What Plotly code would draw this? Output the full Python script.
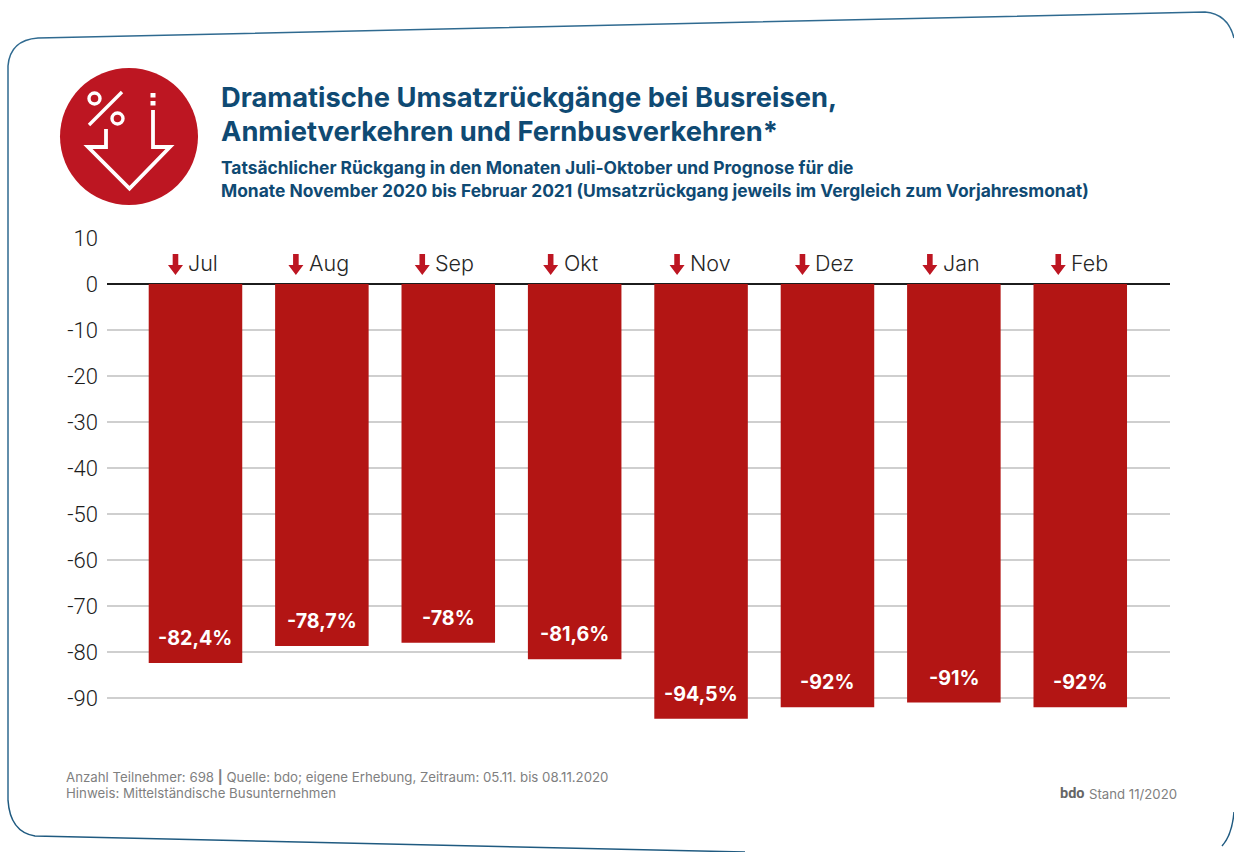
import plotly.graph_objects as go

WIDTH, HEIGHT = 1234, 852

months = ["Jul", "Aug", "Sep", "Okt", "Nov", "Dez", "Jan", "Feb"]
revenue_change = [-82.4, -78.7, -78, -81.6, -94.5, -92, -91, -92]
tick_values = [10, 0, -10, -20, -30, -40, -50, -60, -70, -80, -90]
tick_labels = ["10", "0", "-10", "-20", "-30", "-40", "-50", "-60", "-70", "-80", "-90"]

title_lines = [
    "Dramatische Umsatzrückgänge bei Busreisen,",
    "Anmietverkehren und Fernbusverkehren*",
]
subtitle_lines = [
    "Tatsächlicher Rückgang in den Monaten Juli-Oktober und Prognose für die",
    "Monate November 2020 bis Februar 2021 (Umsatzrückgang jeweils im Vergleich zum Vorjahresmonat)",
]
footer_lines = [
    "Anzahl Teilnehmer: 698 <b>|</b> Quelle: bdo; eigene Erhebung, Zeitraum: 05.11. bis 08.11.2020",
    "Hinweis: Mittelständische Busunternehmen",
]

RED = "#b31514"
ICON_RED = "#bd1622"
BLUE = "#0f4a73"
FONT = "Roboto"
WIDE_FONT = "Inter"

# Horizontal offset of each small arrow from its bar centre, in pixels
ARROW_OFFSET = {"Jul": -20, "Aug": -26, "Sep": -26, "Okt": -24,
                "Nov": -24, "Dez": -25, "Jan": -24, "Feb": -22}


def px(x):
    return x / WIDTH


def py(y):
    return 1 - y / HEIGHT


def text(x, y, s, size, color, bold=False, anchor="left", family=WIDE_FONT):
    return dict(
        x=px(x), y=py(y), xref="paper", yref="paper", text=f"<b>{s}</b>" if bold else s,
        showarrow=False, xanchor=anchor, yanchor="middle",
        font=dict(family=family, size=size, color=color),
    )


annotations = [
    text(219, 97, title_lines[0], 27.3, BLUE, True),
    text(219, 131, title_lines[1], 27.3, BLUE, True),
    text(219, 167, subtitle_lines[0], 17.4, BLUE, True),
    text(219, 190, subtitle_lines[1], 17.4, BLUE, True),
    text(64, 777, footer_lines[0], 13.25, "#7f7f7f"),
    text(64, 793, footer_lines[1], 13.25, "#7f7f7f"),
    text(1058, 793, "bdo", 14.5, "#666666", True, family=FONT),
    text(1087, 794, "Stand 11/2020", 13.2, "#808080"),
]

shapes = [
    # Outer card frame, slightly skewed
    dict(type="path", xref="paper", yref="paper", layer="below",
         path=" ".join([
             f"M {px(8)} {py(800)}",
             f"L {px(8)} {py(66)}",
             f"Q {px(10)} {py(40)} {px(38)} {py(38)}",
             f"L {px(1205)} {py(12)}",
             f"Q {px(1228)} {py(14)} {px(1234)} {py(38)}",
         ]),
         line=dict(color="#2f6a90", width=1.5)),
    dict(type="path", xref="paper", yref="paper", layer="below",
         path=" ".join([
             f"M {px(8)} {py(800)}",
             f"Q {px(10)} {py(832)} {px(35)} {py(836)}",
             f"L {px(745)} {py(852)}",
         ]),
         line=dict(color="#1f5a80", width=1.5)),
    dict(type="path", xref="paper", yref="paper", layer="below",
         path=f"M {px(1234)} {py(812)} Q {px(1232)} {py(835)} {px(1222)} {py(846)}",
         line=dict(color="#1f5a80", width=1.5)),
    # Round icon: disc, percent sign and dashed down arrow
    dict(type="circle", xref="paper", yref="paper", x0=px(60), x1=px(198),
         y0=py(68), y1=py(205), fillcolor=ICON_RED, line=dict(width=0)),
    dict(type="circle", xref="paper", yref="paper", x0=px(89), x1=px(100),
         y0=py(93), y1=py(104), line=dict(color="white", width=3.4)),
    dict(type="circle", xref="paper", yref="paper", x0=px(112), x1=px(123),
         y0=py(113), y1=py(124), line=dict(color="white", width=3.4)),
    dict(type="line", xref="paper", yref="paper", x0=px(89), y0=py(125),
         x1=px(122), y1=py(92), line=dict(color="white", width=3.4)),
    dict(type="line", xref="paper", yref="paper", x0=px(153), y0=py(93),
         x1=px(153), y1=py(97.5), line=dict(color="white", width=5)),
    dict(type="line", xref="paper", yref="paper", x0=px(153), y0=py(101),
         x1=px(153), y1=py(105.5), line=dict(color="white", width=5)),
    dict(type="path", xref="paper", yref="paper",
         path=" ".join([
             f"M {px(153)} {py(110)}",
             f"L {px(153)} {py(147)}",
             f"L {px(170)} {py(147)}",
             f"L {px(129.5)} {py(188.5)}",
             f"L {px(88)} {py(147)}",
             f"L {px(106)} {py(147)}",
             f"L {px(106)} {py(129)}",
         ]),
         line=dict(color="white", width=3.8)),
]

for i, (month, value) in enumerate(zip(months, revenue_change)):
    offset = ARROW_OFFSET[month]
    # Small red arrow in front of the month name, anchored to the category
    arrow_path = " ".join(
        f"{cmd} {offset + dx} {dy}" for cmd, dx, dy in [
            ("M", -2.8, 7), ("L", 2.8, 7), ("L", 2.8, -4), ("L", 7.5, -4),
            ("L", 0, -14), ("L", -7.5, -4), ("L", -2.8, -4),
        ]
    ) + " Z"
    shapes.append(dict(type="path", xref="x", yref="y", xsizemode="pixel",
                       ysizemode="pixel", xanchor=i, yanchor=5, path=arrow_path,
                       fillcolor=ICON_RED, line=dict(width=0), layer="above"))
    annotations.append(dict(
        x=i, y=5, xref="x", yref="y", text=month, showarrow=False,
        xanchor="left", yanchor="middle", xshift=offset + 11, yshift=-2,
        font=dict(family=WIDE_FONT, size=21.5, color="#262626", weight=300),
    ))
    annotations.append(dict(
        x=i, y=value, xref="x", yref="y", text=f"<b>{value}%</b>".replace(".", ","),
        showarrow=False, xanchor="center", yanchor="middle", yshift=25,
        font=dict(family=WIDE_FONT, size=19.7, color="white"),
    ))

fig = go.Figure(go.Bar(
    x=list(range(len(months))), y=revenue_change, width=0.74,
    marker=dict(color=RED, line=dict(width=0)), hoverinfo="skip",
))

fig.update_layout(
    width=WIDTH, height=HEIGHT, margin=dict(l=0, r=0, t=0, b=0),
    paper_bgcolor="white", plot_bgcolor="white", showlegend=False,
    shapes=shapes, annotations=annotations,
    xaxis=dict(domain=[px(107), px(1170)], range=[-0.70, 7.71], automargin=False,
               showticklabels=False, showgrid=False, zeroline=False, fixedrange=True),
    yaxis=dict(domain=[py(744), py(238)], range=[-100, 10], automargin=False,
               tickmode="array", tickvals=tick_values, ticktext=tick_labels,
               tickfont=dict(family=FONT, size=22, color="#1c1c1c", weight=300),
               ticks="", ticklabelstandoff=8, showline=False,
               showgrid=True, gridcolor="#cfcfcf", gridwidth=1.5,
               zeroline=True, zerolinecolor="#1c1c1c", zerolinewidth=2, fixedrange=True),
)

fig.write_html("out.html")
